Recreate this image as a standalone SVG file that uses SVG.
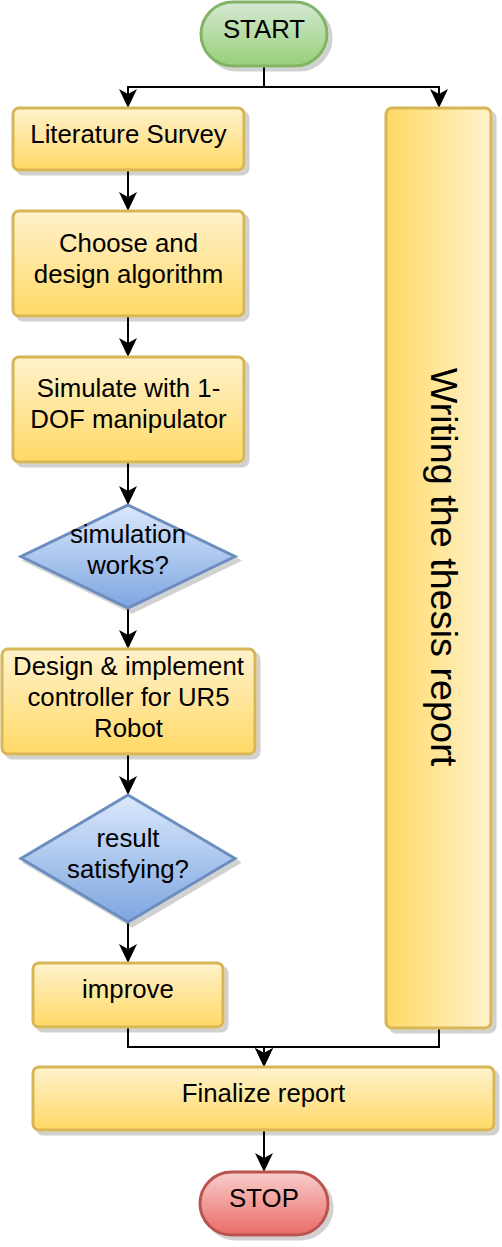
<svg xmlns="http://www.w3.org/2000/svg" width="502" height="1247" viewBox="0 0 502 1247">
<defs>
<linearGradient id="gY" x1="0" y1="0" x2="0" y2="1"><stop offset="0" stop-color="#fff2cc"/><stop offset="1" stop-color="#ffd966"/></linearGradient>
<linearGradient id="gYH" x1="0" y1="0" x2="1" y2="0"><stop offset="0" stop-color="#ffd966"/><stop offset="1" stop-color="#fff2cc"/></linearGradient>
<linearGradient id="gB" x1="0" y1="0" x2="0" y2="1"><stop offset="0" stop-color="#dae8fc"/><stop offset="1" stop-color="#7ea6e0"/></linearGradient>
<linearGradient id="gG" x1="0" y1="0" x2="0" y2="1"><stop offset="0" stop-color="#d5e8d4"/><stop offset="1" stop-color="#97d077"/></linearGradient>
<linearGradient id="gR" x1="0" y1="0" x2="0" y2="1"><stop offset="0" stop-color="#f8cecc"/><stop offset="1" stop-color="#ea6b66"/></linearGradient>
<filter id="sh" x="-10%" y="-10%" width="130%" height="130%">
<feOffset in="SourceAlpha" dx="4" dy="4" result="o"/>
<feFlood flood-color="#000" flood-opacity="0.18"/>
<feComposite in2="o" operator="in" result="s"/>
<feMerge><feMergeNode in="s"/><feMergeNode in="SourceGraphic"/></feMerge>
</filter>
<marker id="arr" viewBox="0 0 19 18" refX="5" refY="9" markerWidth="19" markerHeight="18" markerUnits="userSpaceOnUse" orient="auto">
<path d="M0,0 L19,9 L0,18 L5,9 Z" fill="#000"/>
</marker>
</defs>
<style>
.y{fill:url(#gY);stroke:#d6b656;stroke-width:3;filter:url(#sh)}
.yh{fill:url(#gYH);stroke:#d6b656;stroke-width:3;filter:url(#sh)}
.b{fill:url(#gB);stroke:#6c8ebf;stroke-width:3;filter:url(#sh)}
.g{fill:url(#gG);stroke:#82b366;stroke-width:3;filter:url(#sh)}
.r{fill:url(#gR);stroke:#b85450;stroke-width:3;filter:url(#sh)}
text{font-family:"Liberation Sans",Arial,Helvetica,sans-serif;font-size:25.8px;fill:#000;text-anchor:middle}
.big{font-size:37.8px}
.c{fill:none;stroke:#000;stroke-width:2;marker-end:url(#arr)}
</style>
<g id="connectors">
<path class="c" d="M264,66 V87 H128 V94"/>
<path class="c" d="M264,66 V87 H439 V94"/>
<path class="c" d="M128,170 V197"/>
<path class="c" d="M128,316 V343"/>
<path class="c" d="M128,462 V491"/>
<path class="c" d="M128,608 V635"/>
<path class="c" d="M128,754 V781"/>
<path class="c" d="M128,922 V949"/>
<path class="c" d="M128,1027 V1047 H264 V1053"/>
<path class="c" d="M439,1028 V1047 H264 V1053"/>
<path class="c" d="M264,1130 V1158"/>
</g>
<g id="start"><rect class="g" x="201" y="2" width="126" height="64" rx="32"/><text x="264" y="38">START</text></g>
<g id="lit"><rect class="y" x="13" y="108" width="231" height="62" rx="6"/><text x="128.5" y="143">Literature Survey</text></g>
<g id="choose"><rect class="y" x="13" y="211" width="231" height="105" rx="6"/><text x="128.5" y="252">Choose and</text><text x="128.5" y="283">design algorithm</text></g>
<g id="simulate"><rect class="y" x="13" y="357" width="231" height="105" rx="6"/><text x="128.5" y="397">Simulate with 1-</text><text x="128.5" y="428">DOF manipulator</text></g>
<g id="simworks"><polygon class="b" points="128,505 235,556.5 128,608 21,556.5"/><text x="128" y="543">simulation</text><text x="128" y="574">works?</text></g>
<g id="design"><rect class="y" x="2" y="649" width="253" height="105" rx="6"/><text x="128.5" y="675">Design &amp; implement</text><text x="128.5" y="706">controller for UR5</text><text x="128.5" y="737">Robot</text></g>
<g id="result"><polygon class="b" points="128,795 235,858.5 128,922 21,858.5"/><text x="128" y="847">result</text><text x="128" y="878">satisfying?</text></g>
<g id="improve"><rect class="y" x="33" y="963" width="190" height="64" rx="6"/><text x="128" y="998">improve</text></g>
<g id="thesis"><rect class="yh" x="386" y="108" width="105" height="920" rx="6"/><text class="big" transform="translate(431,567) rotate(90)">Writing the thesis report</text></g>
<g id="finalize"><rect class="y" x="33" y="1067" width="461" height="63" rx="6"/><text x="263.5" y="1102">Finalize report</text></g>
<g id="stop"><rect class="r" x="200" y="1172" width="128" height="63" rx="31.5"/><text x="264" y="1207">STOP</text></g>
</svg>
